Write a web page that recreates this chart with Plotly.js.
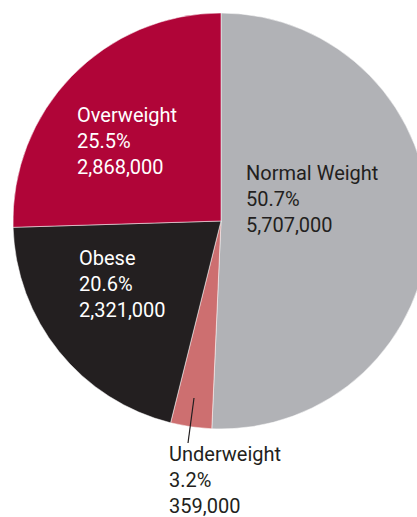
<!DOCTYPE html>
<html>
<head>
<meta charset="utf-8">
<script src="https://cdn.plot.ly/plotly-3.0.1.min.js"></script>
<style>
  html, body { margin: 0; padding: 0; background: #ffffff; overflow: hidden; width: 417px; height: 517px; }
  #chart { width: 442px; height: 517px; }
</style>
</head>
<body>
<div id="chart"></div>
<script>
// Data
var categories = ['Normal Weight', 'Underweight', 'Obese', 'Overweight'];
var counts = [5707000, 359000, 2321000, 2868000];
var sliceColors = ['#b1b2b6', '#cd6f70', '#231f20', '#b00538'];
var labelColors = ['#231f20', '#231f20', '#ffffff', '#ffffff'];

var W = 442, H = 517;
function px(x) { return x / W; }
function py(y) { return 1 - y / H; }

var total = counts.reduce(function (a, b) { return a + b; }, 0);

// label anchor positions (top-left of text block, pixels)
var labelPos = [[244, 159], [167, 440], [77, 244], [75, 101]];

var annotations = categories.map(function (c, i) {
  var pct = (counts[i] / total * 100).toFixed(1);
  return {
    xref: 'paper', yref: 'paper',
    x: px(labelPos[i][0]), y: py(labelPos[i][1]),
    xanchor: 'left', yanchor: 'top', align: 'left',
    showarrow: false,
    text: c + '<br>' + pct + '%<br>' + counts[i].toLocaleString('en-US'),
    font: { family: 'Roboto, "DejaVu Sans Condensed", Arial, sans-serif', size: 20, color: labelColors[i] }
  };
});

var trace = {
  type: 'pie',
  labels: categories,
  values: counts,
  sort: false,
  direction: 'clockwise',
  rotation: 0,
  textinfo: 'none',
  hoverinfo: 'none',
  marker: { colors: sliceColors, line: { color: '#ffffff', width: 0.5 } },
  domain: { x: [0, 1], y: [py(429), py(13)] },
  showlegend: false
};

var layout = {
  width: W, height: H,
  margin: { l: 0, r: 0, t: 0, b: 0 },
  paper_bgcolor: '#ffffff',
  showlegend: false,
  annotations: annotations,
  shapes: [{
    type: 'line', xref: 'paper', yref: 'paper',
    x0: px(194), y0: py(398), x1: px(188), y1: py(443),
    line: { color: '#231f20', width: 1.2 }
  }]
};

Plotly.newPlot('chart', [trace], layout, { staticPlot: true });
</script>
</body>
</html>
